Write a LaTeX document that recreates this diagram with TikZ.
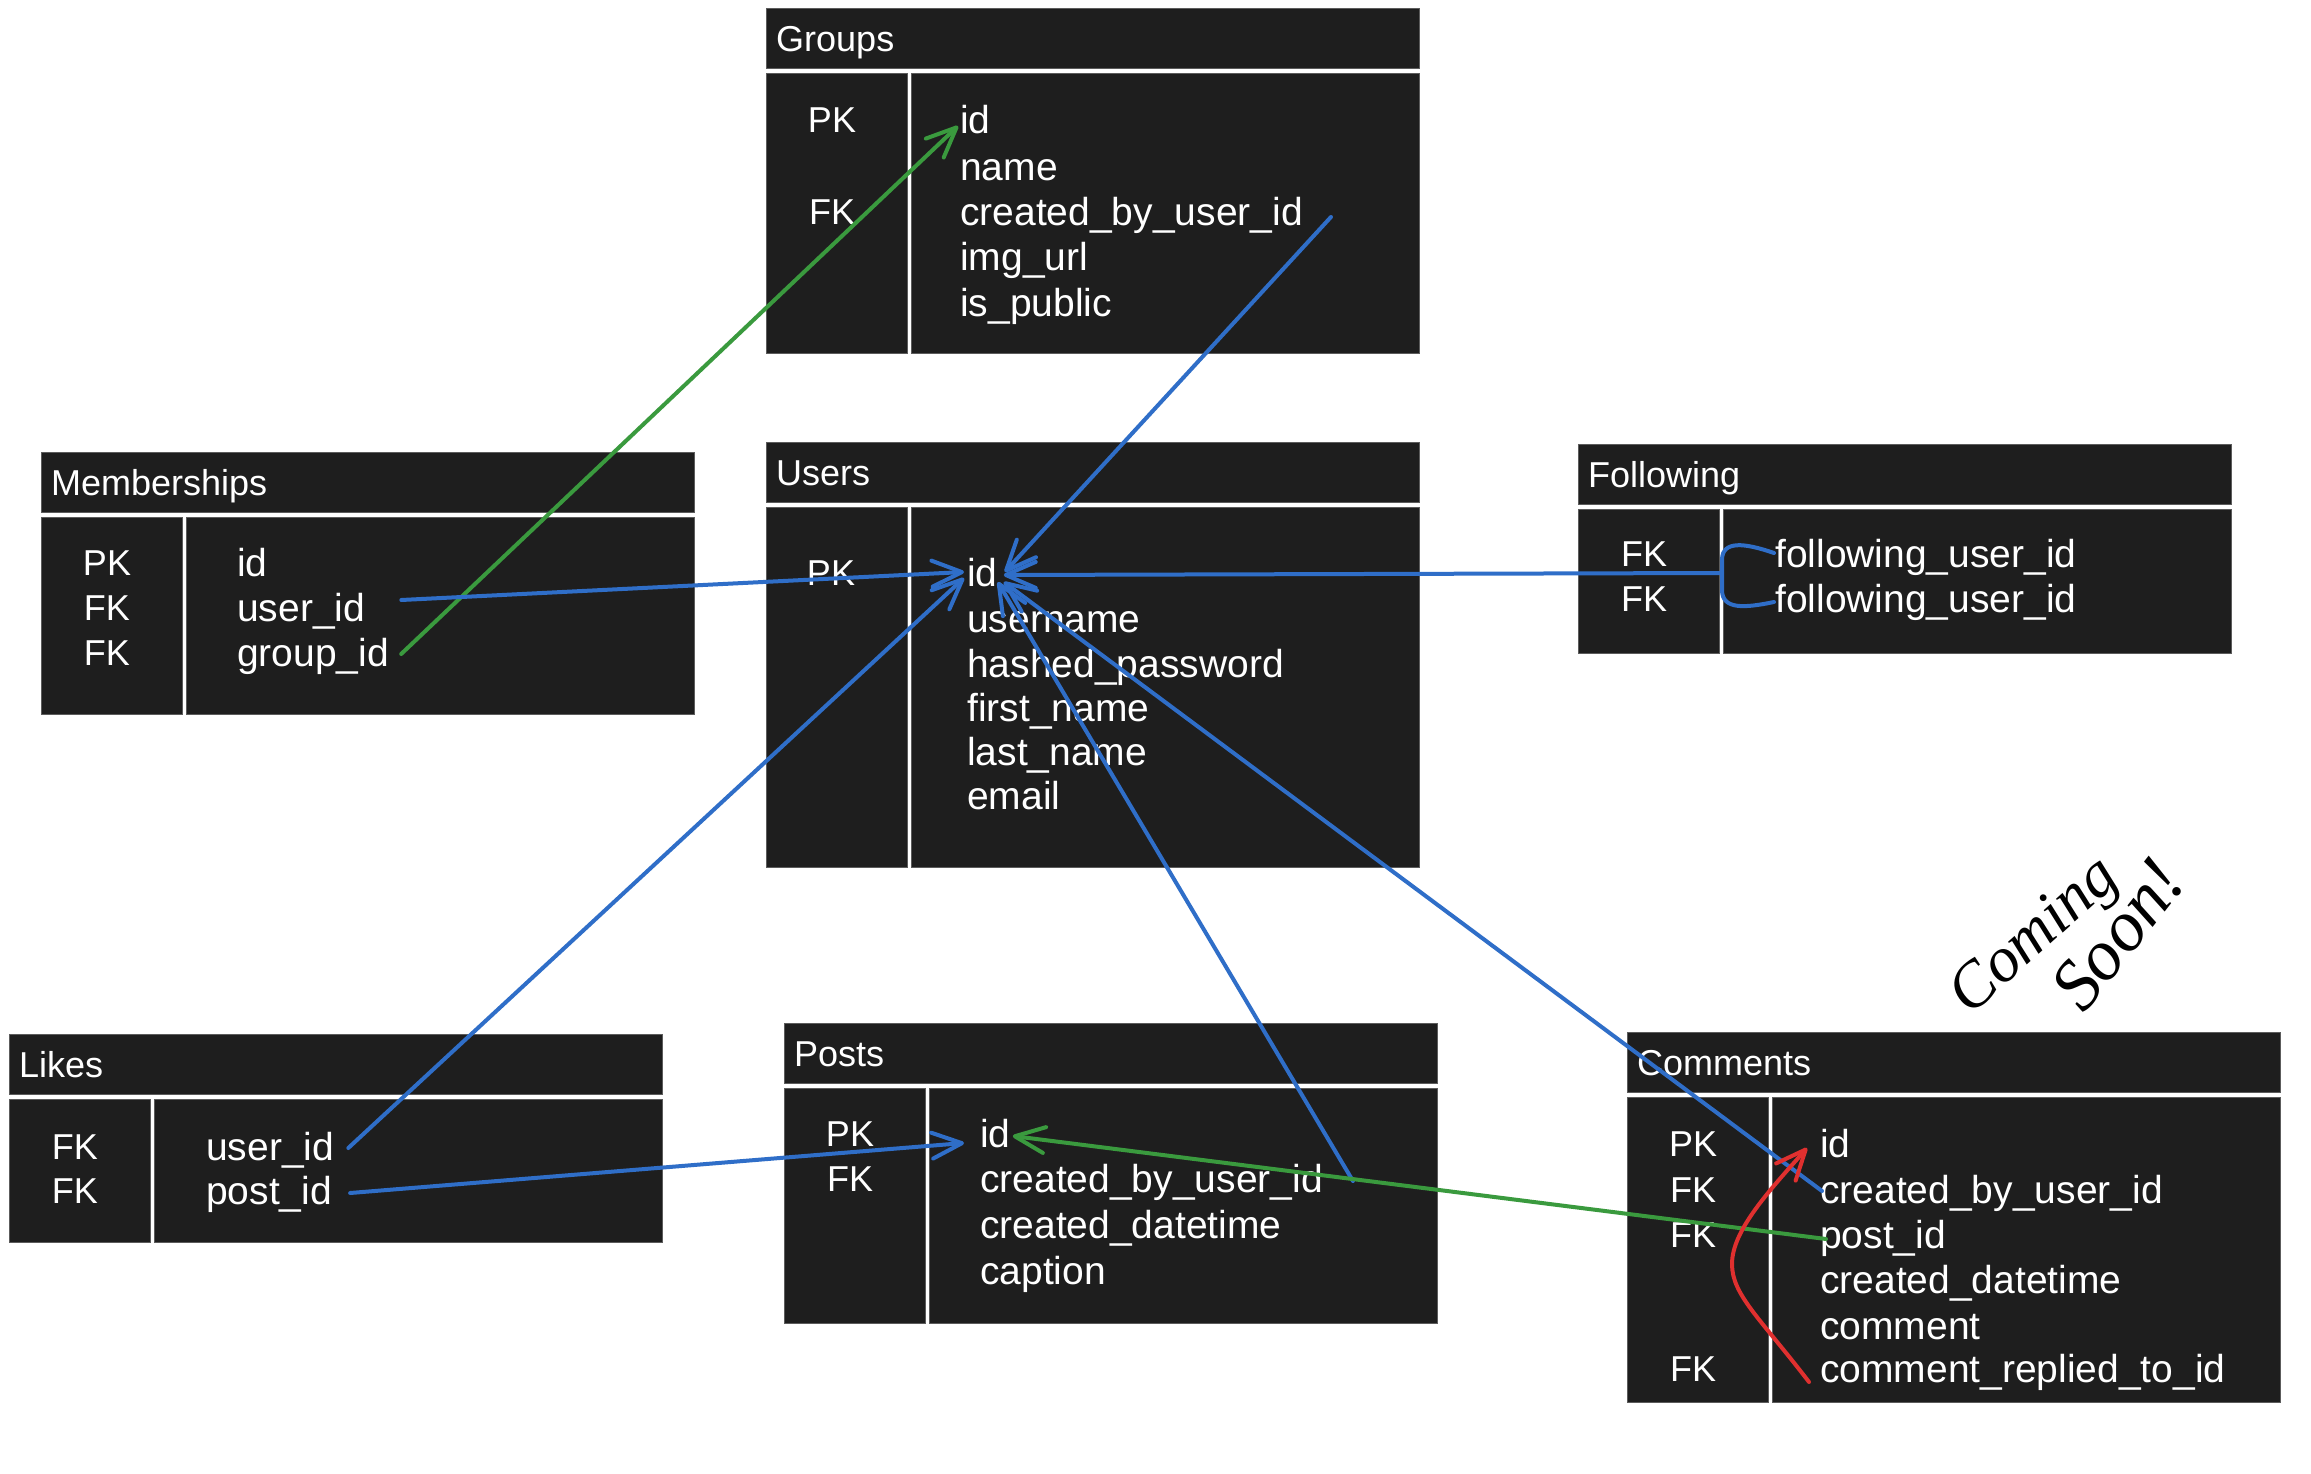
\documentclass[tikz,border=0pt]{standalone}
\usepackage{fontspec}
\setmainfont{Liberation Sans}
\newfontfamily\notefont{Liberation Serif}
\usetikzlibrary{arrows.meta,calc}

\definecolor{tablefill}{HTML}{1E1E1E}
\definecolor{tableedge}{HTML}{5C5C5C}
\definecolor{linkblue}{HTML}{2F6EC8}
\definecolor{linkgreen}{HTML}{3A9A3E}
\definecolor{linkred}{HTML}{E0302F}

\tikzset{
  boxpart/.style={draw=tableedge, line width=1pt, fill=tablefill, inner sep=0pt,
    outer sep=0pt, anchor=north west},
  titletext/.style={anchor=west, inner sep=0pt, text=white,
    font=\fontsize{36}{38}\selectfont, text height=26pt, text depth=0pt},
  keytext/.style={anchor=center, inner sep=0pt, text=white,
    font=\fontsize{36}{38}\selectfont, text height=26pt, text depth=0pt},
  fieldtext/.style={anchor=west, inner sep=0pt, text=white,
    font=\fontsize{39}{41}\selectfont, text height=28pt, text depth=0pt},
  link/.style={line width=4pt, line cap=round, line join=round,
    -{Straight Barb[length=30pt,width=26pt,round]}},
  plainlink/.style={line width=4pt, line cap=round, line join=round},
  notetext/.style={inner sep=0pt, text=black, font=\notefont\itshape},
}

% table: #1 prefix, #2 left x, #3 top y, #4 title, #5 body height
\newcommand{\dbtable}[5]{%
  \node[boxpart, minimum width=653pt, minimum height=60pt] (#1-head) at (#2,#3) {};
  \node[boxpart, minimum width=141pt, minimum height=#5pt] (#1-keys) at (#2,{#3+65}) {};
  \node[boxpart, minimum width=508pt, minimum height=#5pt] (#1-body) at ({#2+145},{#3+65}) {};
  \node[titletext] (#1-title) at ({#2+10},{#3+30}) {#4};
}

\begin{document}
\begin{tikzpicture}[x=1pt, y=-1pt]
\fill[white] (0,0) rectangle (2311,1474);
\useasboundingbox (0,0) rectangle (2311,1474);

% ---------- tables ----------
\dbtable{g}{766}{9}{Groups}{279}
\dbtable{u}{766}{442}{Users}{360}
\dbtable{m}{41}{452}{Memberships}{197}
\dbtable{f}{1578}{444}{Following}{144}
\dbtable{l}{9}{1034}{Likes}{143}
\dbtable{p}{784}{1023}{Posts}{235}
\dbtable{c}{1627}{1032}{Comments}{305}

% Groups
\node[keytext] (g-k1) at (832,120) {PK};
\node[keytext] (g-k2) at (832,212) {FK};
\node[fieldtext] (g-id)  at (960,120) {id};
\node[fieldtext] (g-nm)  at (960,167) {name};
\node[fieldtext] (g-cbu) at (960,212) {created\_by\_user\_id};
\node[fieldtext] (g-img) at (960,257) {img\_url};
\node[fieldtext] (g-pub) at (960,302) {is\_public};

% Users
\node[keytext] (u-k1) at (831,572) {PK};
\node[fieldtext] (u-id)  at (967,572) {id};
\node[fieldtext] (u-un)  at (967,618) {username};
\node[fieldtext] (u-pw)  at (967,663) {hashed\_password};
\node[fieldtext] (u-fn)  at (967,707) {first\_name};
\node[fieldtext] (u-ln)  at (967,751) {last\_name};
\node[fieldtext] (u-em)  at (967,795) {email};

% Memberships
\node[keytext] (m-k1) at (107,562) {PK};
\node[keytext] (m-k2) at (107,607) {FK};
\node[keytext] (m-k3) at (107,652) {FK};
\node[fieldtext] (m-id)  at (237,562) {id};
\node[fieldtext] (m-uid) at (237,607) {user\_id};
\node[fieldtext] (m-gid) at (237,652) {group\_id};

% Following
\node[keytext] (f-k1) at (1644,553) {FK};
\node[keytext] (f-k2) at (1644,598) {FK};
\node[fieldtext] (f-fu1) at (1775,553) {following\_user\_id};
\node[fieldtext] (f-fu2) at (1775,598) {following\_user\_id};

% Likes
\node[keytext] (l-k1) at (75,1146) {FK};
\node[keytext] (l-k2) at (75,1190) {FK};
\node[fieldtext] (l-uid) at (206,1146) {user\_id};
\node[fieldtext] (l-pid) at (206,1190) {post\_id};

% Posts
\node[keytext] (p-k1) at (850,1133) {PK};
\node[keytext] (p-k2) at (850,1178) {FK};
\node[fieldtext] (p-id)  at (980,1133) {id};
\node[fieldtext] (p-cbu) at (980,1178) {created\_by\_user\_id};
\node[fieldtext] (p-cdt) at (980,1224) {created\_datetime};
\node[fieldtext] (p-cap) at (980,1270) {caption};

% Comments
\node[keytext] (c-k1) at (1693,1143) {PK};
\node[keytext] (c-k2) at (1693,1189) {FK};
\node[keytext] (c-k3) at (1693,1234) {FK};
\node[keytext] (c-k4) at (1693,1368) {FK};
\node[fieldtext] (c-id)  at (1820,1143) {id};
\node[fieldtext] (c-cbu) at (1820,1189) {created\_by\_user\_id};
\node[fieldtext] (c-pid) at (1820,1234) {post\_id};
\node[fieldtext] (c-cdt) at (1820,1279) {created\_datetime};
\node[fieldtext] (c-com) at (1820,1325) {comment};
\node[fieldtext] (c-crt) at (1820,1368) {comment\_replied\_to\_id};

% ---------- note ----------
\node[notetext, font=\notefont\itshape\fontsize{64}{66}\selectfont, rotate=42] (note-a) at (2036,938) {Coming};
\node[notetext, font=\notefont\itshape\fontsize{72}{74}\selectfont, rotate=52] (note-b) at (2118,934) {Soon!};

% ---------- relations ----------
% memberships
\draw[link, linkgreen] ([xshift=12pt,yshift=-2pt]m-gid.east) -- ([xshift=-2pt,yshift=-6pt]g-id.west);
\draw[link, linkblue] ([xshift=36pt,yshift=7pt]m-uid.east) -- ([xshift=-3pt]u-id.west);
% groups creator
\draw[link, linkblue] ([xshift=28pt,yshift=-5pt]g-cbu.east) -- ([xshift=7pt]u-id.east);
% likes
\draw[link, linkblue] ([xshift=14pt,yshift=-2pt]l-uid.east) -- ([xshift=-3pt,yshift=-6pt]u-id.west);
\draw[link, linkblue] ([xshift=18pt,yshift=-3pt]l-pid.east) -- ([xshift=-16pt,yshift=-10pt]p-id.west);
% posts creator
\draw[link, linkblue] ([xshift=30pt,yshift=-3pt]p-cbu.east) -- ([yshift=-10pt]u-id.east);
% comments
\draw[link, linkblue] ([xshift=2pt,yshift=-2pt]c-cbu.west) -- ([xshift=6pt,yshift=-10pt]u-id.east);
\draw[link, linkgreen] ([xshift=6pt,yshift=-5pt]c-pid.west) -- ([xshift=2pt,yshift=-3pt]p-id.east);
\draw[link, linkred] ([xshift=-11pt,yshift=-14pt]c-crt.west)
  .. controls (1760,1318) and (1732,1295) .. (1732,1264)
  .. controls (1732,1230) and (1770,1190) .. ([xshift=-13pt,yshift=-5pt]c-id.west);
% following: bracket joining both columns
\coordinate (fj) at (1722,573);
\draw[plainlink, linkblue] ([xshift=-1pt]f-fu1.west)
  .. controls (1745,543) and (1722,540) .. (1722,560) -- (1722,590)
  .. controls (1722,610) and (1745,608) .. ([xshift=-1pt,yshift=-4pt]f-fu2.west);
\draw[link, linkblue] (fj) -- ([xshift=6pt,yshift=-3pt]u-id.east);

\end{tikzpicture}
\end{document}
